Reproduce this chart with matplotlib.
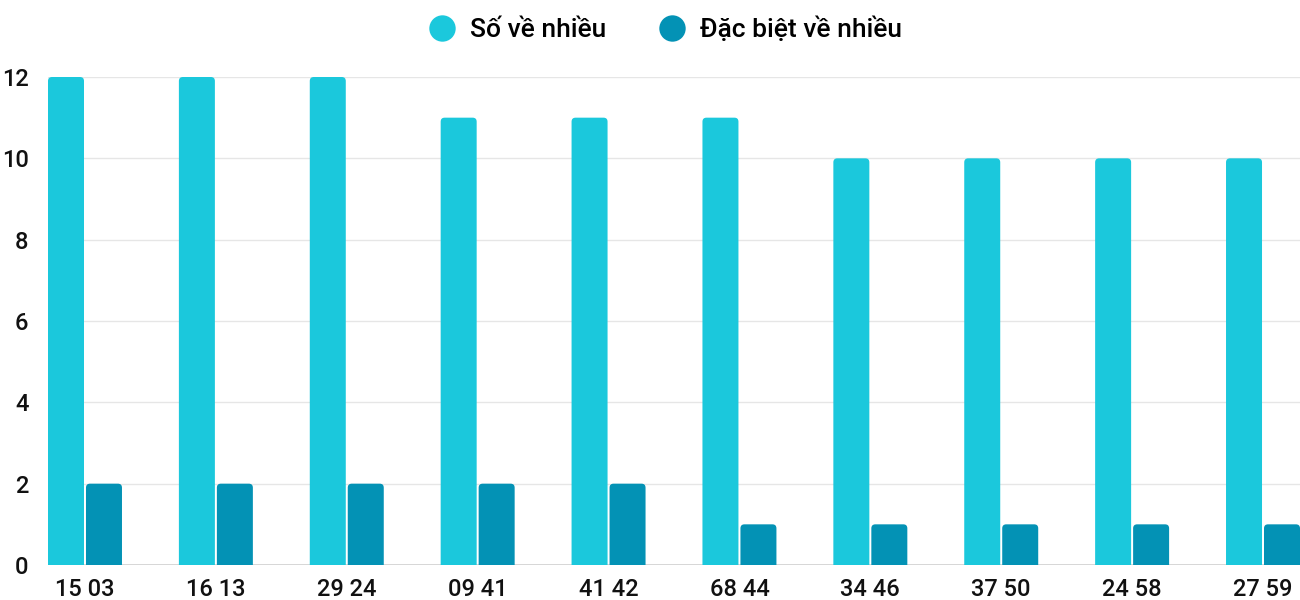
import matplotlib.pyplot as plt
from matplotlib.patches import FancyBboxPatch
from matplotlib.lines import Line2D
import numpy as np

plt.rcParams['font.family'] = ['Roboto', 'DejaVu Sans']
plt.rcParams['font.weight'] = 500

categories = ["15 03", "16 13", "29 24", "09 41", "41 42", "68 44", "34 46", "37 50", "24 58", "27 59"]
so_ve_nhieu = [12, 12, 12, 11, 11, 11, 10, 10, 10, 10]
dac_biet = [2, 2, 2, 2, 2, 1, 1, 1, 1, 1]
series_names = ["Số về nhiều", "Đặc biệt về nhiều"]

LIGHT = "#1bc8dc"
DARK = "#0392b5"

fig = plt.figure(figsize=(13, 6), dpi=100)
ax = fig.add_axes([48 / 1300, 35 / 600, 1252 / 1300, 488 / 600])

x = np.arange(len(categories))
w = 0.275
gap = 0.0076
ax.set_xlim(-w - gap, len(categories) - 1 + w + gap)
ax.set_ylim(0, 12)

# rounded-top bars: radius in x units, aspect corrects for y scale
px_x = 1252 / (len(categories) - 1 + 2 * (w + gap))
px_y = 488 / 12
rad = 4 / px_x
aspect = px_x / px_y

for vals, offset, color in [(so_ve_nhieu, -(w / 2 + gap), LIGHT), (dac_biet, w / 2 + gap, DARK)]:
    for xi, v in zip(x, vals):
        p = FancyBboxPatch((xi + offset - w / 2, -1), w, v + 1,
                           boxstyle=f"round,pad=0,rounding_size={rad}",
                           mutation_aspect=aspect, facecolor=color,
                           edgecolor="none", zorder=3)
        ax.add_patch(p)

ax.set_yticks(range(0, 13, 2))
ax.grid(axis="y", color="#e6e6e6", linewidth=1, zorder=0)
ax.axhline(0, color="#d0d0d0", linewidth=1.2, zorder=2)
for s in ax.spines.values():
    s.set_visible(False)

ax.set_xticks(x)
ax.set_xticklabels(categories)
ax.tick_params(axis="both", length=0, labelsize=17, colors="#111111")
ax.tick_params(axis="y", pad=14)
ax.tick_params(axis="x", pad=9)

handles = [Line2D([], [], marker="o", linestyle="none", markersize=19, markerfacecolor=c, markeredgecolor="none")
           for c in (LIGHT, DARK)]
fig.legend(handles, series_names, loc="center", bbox_to_anchor=(0.507, 1 - 29 / 600), ncol=2,
           frameon=False, fontsize=19, handletextpad=0.05, columnspacing=1.5)

fig.savefig("out.png", dpi=100)
